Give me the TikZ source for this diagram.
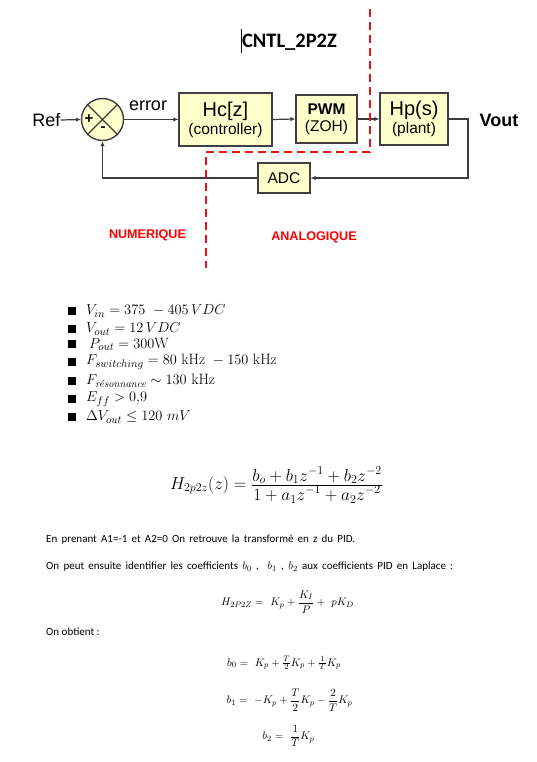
\documentclass[tikz,border=0pt]{standalone}
\usepackage{amsmath}
\usepackage{fontspec}
\newfontfamily\arial{Liberation Sans}
\newfontfamily\calibri{Carlito}
\usetikzlibrary{arrows.meta}
\definecolor{boxfill}{RGB}{255,255,204}
\definecolor{lineg}{RGB}{60,60,60}
\definecolor{boxborder}{RGB}{64,64,64}
\definecolor{dashred}{RGB}{235,20,20}
\begin{document}
\begin{tikzpicture}[x=1pt,y=-1pt,
  blk/.style={draw=boxborder,fill=boxfill,line width=1.4pt,inner sep=0pt,align=center,
    font=\arial\fontsize{15.5}{17}\selectfont},
  wire/.style={draw=lineg,line width=1.2pt},
  arr/.style={wire,-{Latex[length=5pt,width=4.5pt]}},
  lbl/.style={inner sep=0pt,font=\arial\fontsize{18}{20}\selectfont},
  zone/.style={inner sep=0pt,text=red,font=\arial\bfseries\fontsize{12.6}{14}\selectfont},
  sepline/.style={draw=dashred,line width=1.8pt,dash pattern=on 8pt off 5pt},
  bul/.style={fill=black,minimum size=8pt,inner sep=0pt},
  spec/.style={anchor=west,inner sep=0pt,font=\fontsize{15}{17}\selectfont},
  body/.style={anchor=west,inner sep=0pt,font=\calibri\fontsize{11}{13}\selectfont},
  eq/.style={inner sep=0pt,font=\fontsize{11}{13}\selectfont}]
\useasboundingbox[fill=white] (0,0) rectangle (536,762);

% title
\node[inner sep=0pt,font=\calibri\bfseries\fontsize{20.5}{23}\selectfont] (title) at (289.5,42) {CNTL\_2P2Z};
\draw[line width=1pt] (241,29) -- (241,53);

% block diagram
\node[lbl] (ref) at (46.5,120) {Ref};
\node[circle,draw=boxborder,fill=boxfill,line width=1.4pt,minimum size=42pt,inner sep=0pt] (sum) at (102.5,119.5) {};
\draw[wire] (sum.north west) -- (sum.south east);
\draw[wire] (sum.north east) -- (sum.south west);
\node[inner sep=0pt,font=\arial\bfseries\fontsize{15}{17}\selectfont] (plus) at (89,119) {+};
\node[inner sep=0pt,font=\arial\bfseries\fontsize{15}{17}\selectfont] (minus) at (103,129) {-};
\node[lbl] (err) at (148,106) {error};
\node[blk,minimum width=93pt,minimum height=53pt] (hc) at (225.5,119.5)
  {{\fontsize{20}{21}\selectfont Hc[z]}\\[1pt](controller)};
\node[blk,minimum width=61pt,minimum height=48pt] (pwm) at (326.5,119)
  {\textbf{PWM}\\(ZOH)};
\node[blk,minimum width=68pt,minimum height=52pt] (hp) at (414,119)
  {{\fontsize{20}{21}\selectfont Hp(s)}\\[1pt](plant)};
\node[blk,minimum width=52pt,minimum height=30pt] (adc) at (284,178) {ADC};
\node[lbl,font=\arial\bfseries\fontsize{18}{20}\selectfont] (vout) at (499,120) {Vout};

\draw[arr] (ref.east) -- (sum.west);
\draw[arr] (sum.east) -- (hc.west);
\draw[arr] (hc.east) -- (pwm.west);
\draw[arr] (pwm.east) -- (hp.west);
\coordinate (tap) at (468,119);
\draw[arr] (hp.east) -- (tap) |- (adc.east);
\draw[arr] (adc.west) -| (sum.south);

% digital / analog separation
\draw[sepline] (370,9) -- (370,152) -- (206,152) -- (206,268);
\node[zone] (num) at (147.5,235.5) {NUMERIQUE};
\node[zone] (ana) at (314,237.5) {ANALOGIQUE};

% specifications
\foreach \yy in {311,329,344,362,381,399,417}
  \node[bul] at (72,\yy) {};
\node[spec] (s1) at (86,311) {$V_{in} = 375\ - 405\,VDC$};
\node[spec] (s2) at (86,329) {$V_{out} = 12\,VDC$};
\node[spec] (s3) at (89,344) {$P_{out} = 300\mathrm{W}$};
\node[spec] (s4) at (86,362) {$F_{switching} = 80\ \mathrm{kHz}\ - 150\ \mathrm{kHz}$};
\node[spec] (s5) at (86,381) {$F_{\text{\itshape résonnance}} \sim 130\ \mathrm{kHz}$};
\node[spec] (s6) at (86,399) {$E_{ff} > 0{,}9$};
\node[spec] (s7) at (86,417) {$\Delta V_{out} \le 120\ mV$};

% transfer function
\node[inner sep=0pt,font=\fontsize{17}{19}\selectfont] (h) at (276.5,485)
  {$H_{2p2z}(z) = {\textstyle\frac{\displaystyle b_o + b_1 z^{-1} + b_2 z^{-2}}{\displaystyle 1 + a_1 z^{-1} + a_2 z^{-2}}}$};

\node[body] (t1) at (46,540) {\makebox[309pt][s]{En prenant A1=-1 et A2=0 On retrouve la transformé en z du PID.}};
\node[body] (t2) at (46,567) {\makebox[407pt][s]{On peut ensuite identifier les coefficients $b_0$ ,\ \ $b_1$ , $b_2$ aux coefficients PID en Laplace :}};
\node[eq] (pid) at (287.5,602) {$H_{2P2Z} =\ K_p + \dfrac{K_I}{P} +\ pK_D$};
\node[body] (t3) at (46,632) {On obtient :};
\node[eq] (b0) at (284,663) {$b_0 =\ K_p + \tfrac{T}{2}K_p + \tfrac{1}{T}K_p$};
\node[eq] (b1) at (289.5,700) {$b_1 =\ -K_p + \dfrac{T}{2}K_p - \dfrac{2}{T}K_p$};
\node[eq] (b2) at (288.5,736) {$b_2 =\ \dfrac{1}{T}K_p$};
\end{tikzpicture}
\end{document}
